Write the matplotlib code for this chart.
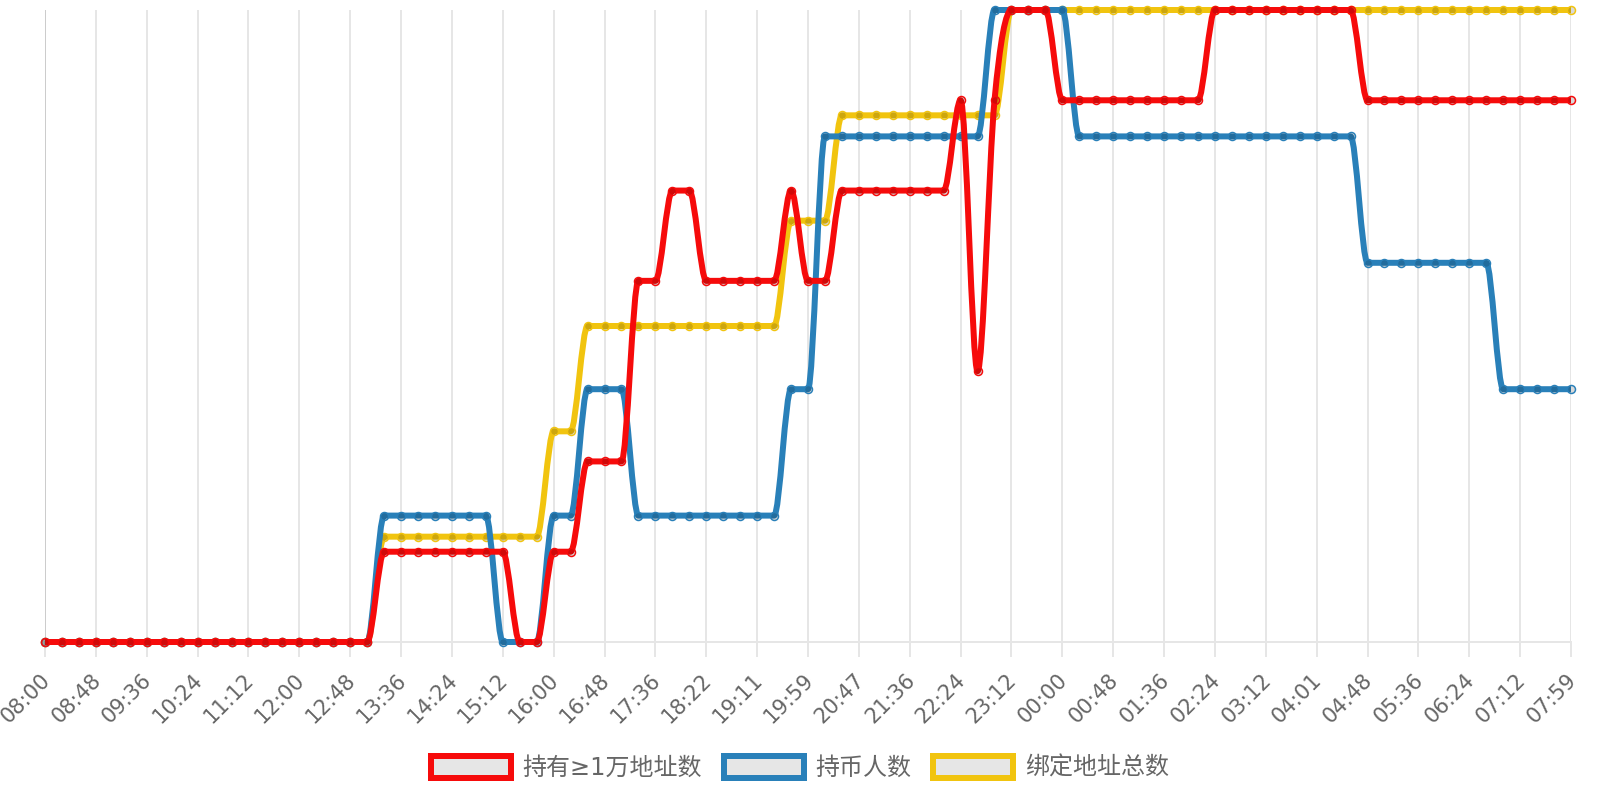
import numpy as np
import matplotlib
matplotlib.use("Agg")
import matplotlib.pyplot as plt
from matplotlib.path import Path
from matplotlib.patches import PathPatch, Patch
from matplotlib.transforms import ScaledTranslation

# x tick labels (one every 3rd sample, 91 samples in total)
tick_labels = ["08:00", "08:48", "09:36", "10:24", "11:12", "12:00", "12:48",
               "13:36", "14:24", "15:12", "16:00", "16:48", "17:36", "18:22",
               "19:11", "19:59", "20:47", "21:36", "22:24", "23:12", "00:00",
               "00:48", "01:36", "02:24", "03:12", "04:01", "04:48", "05:36",
               "06:24", "07:12", "07:59"]

# 持有≥1万地址数
big_holders = [0, 0, 0, 0, 0, 0, 0, 0, 0, 0, 0, 0, 0, 0, 0, 0, 0, 0, 0, 0,
               1, 1, 1, 1, 1, 1, 1, 1, 0, 0, 1, 1, 2, 2, 2, 4, 4, 5, 5, 4,
               4, 4, 4, 4, 5, 4, 4, 5, 5, 5, 5, 5, 5, 5, 6, 3, 6, 7, 7, 7,
               6, 6, 6, 6, 6, 6, 6, 6, 6, 7, 7, 7, 7, 7, 7, 7, 7, 7, 6, 6,
               6, 6, 6, 6, 6, 6, 6, 6, 6, 6, 6]
# 持币人数
holders = [0, 0, 0, 0, 0, 0, 0, 0, 0, 0, 0, 0, 0, 0, 0, 0, 0, 0, 0, 0,
           1, 1, 1, 1, 1, 1, 1, 0, 0, 0, 1, 1, 2, 2, 2, 1, 1, 1, 1, 1,
           1, 1, 1, 1, 2, 2, 4, 4, 4, 4, 4, 4, 4, 4, 4, 4, 5, 5, 5, 5,
           5, 4, 4, 4, 4, 4, 4, 4, 4, 4, 4, 4, 4, 4, 4, 4, 4, 4, 3, 3,
           3, 3, 3, 3, 3, 3, 2, 2, 2, 2, 2]
# 绑定地址总数
bound = [0, 0, 0, 0, 0, 0, 0, 0, 0, 0, 0, 0, 0, 0, 0, 0, 0, 0, 0, 0,
         1, 1, 1, 1, 1, 1, 1, 1, 1, 1, 2, 2, 3, 3, 3, 3, 3, 3, 3, 3,
         3, 3, 3, 3, 4, 4, 4, 5, 5, 5, 5, 5, 5, 5, 5, 5, 5, 6, 6, 6,
         6, 6, 6, 6, 6, 6, 6, 6, 6, 6, 6, 6, 6, 6, 6, 6, 6, 6, 6, 6,
         6, 6, 6, 6, 6, 6, 6, 6, 6, 6, 6]

names = ["持有≥1万地址数", "持币人数", "绑定地址总数"]
colors = ["#f60b0b", "#2980b9", "#f1c40f"]

W, H = 1600, 800
left, right, top, bottom = 45, 1571, 10, 642
PX = 72 / 100  # points per pixel


def monotone_path(vals):
    # monotone cubic (Fritsch-Carlson) through the points, as bezier segments
    y = np.asarray(vals, float)
    n = len(y)
    d = np.diff(y)
    m = np.zeros(n)
    m[0], m[-1] = d[0], d[-1]
    for k in range(1, n - 1):
        if d[k - 1] * d[k] > 0:
            m[k] = (d[k - 1] + d[k]) / 2
    for k in range(n - 1):
        if d[k] == 0:
            m[k] = m[k + 1] = 0
            continue
        a, b = m[k] / d[k], m[k + 1] / d[k]
        s = a * a + b * b
        if s > 9:
            tau = 3 / np.sqrt(s)
            m[k] = a * tau * d[k]
            m[k + 1] = b * tau * d[k]
    verts = [(0, y[0])]
    codes = [Path.MOVETO]
    for k in range(n - 1):
        verts += [(k + 1 / 3, y[k] + m[k] / 3), (k + 2 / 3, y[k + 1] - m[k + 1] / 3),
                  (k + 1, y[k + 1])]
        codes += [Path.CURVE4] * 3
    return Path(verts, codes)


fig = plt.figure(figsize=(16, 8), dpi=100)
ax = fig.add_axes([left / W, 1 - bottom / H, (right - left) / W, (bottom - top) / H])
ax_blue = ax.twinx()
ax_red = ax.twinx()

n = len(bound)
x = np.arange(n)

# yellow on the base axes, red on top
for a, vals, c in [(ax, bound, colors[2]), (ax_blue, holders, colors[1]),
                   (ax_red, big_holders, colors[0])]:
    a.set_xlim(0, n - 1)
    a.set_ylim(0, max(vals))
    a.add_patch(PathPatch(monotone_path(vals), fill=False, edgecolor=c,
                          lw=6 * PX, joinstyle="round", clip_on=False, zorder=3))
    a.plot(x, vals, "o", ms=8 * PX, mfc=(0, 0, 0, 0.15), mec=c, mew=1.5 * PX,
           clip_on=False, zorder=4)
    a.set_yticks([])
    for s in a.spines.values():
        s.set_visible(False)

ax_blue.yaxis.set_visible(False)
ax_red.yaxis.set_visible(False)

ticks = list(range(0, n, 3))
for i, xi in enumerate(ticks):
    ax.axvline(xi, color="#cccccc" if i == 0 else "#e6e6e6", lw=2 * PX, zorder=0)
ax.spines["bottom"].set_visible(True)
ax.spines["bottom"].set_color("#e6e6e6")
ax.spines["bottom"].set_linewidth(2 * PX)

ax.set_xticks(ticks)
ax.set_xticklabels(tick_labels, rotation=45, ha="right", va="center",
                   rotation_mode="anchor", fontsize=21 * PX, color="#666666",
                   family="DejaVu Sans")
ax.tick_params(axis="x", length=15 * PX, width=2 * PX, color="#e6e6e6",
               pad=20 * PX)
for lbl in ax.get_xticklabels():
    lbl.set_transform(lbl.get_transform() + ScaledTranslation(2 / 100, 0, fig.dpi_scale_trans))

handles = [Patch(facecolor="#e6e6e6", edgecolor=c, lw=6 * PX) for c in colors]
fig.legend(handles, names, loc="center", bbox_to_anchor=(0.5, 32 / H), ncol=3,
           frameon=False, prop={"family": ["DejaVu Sans", "Noto Sans CJK SC"],
                                "size": 24 * PX},
           labelcolor="#666666", handlelength=80 / 24, handleheight=1.0,
           handletextpad=0.5, columnspacing=0.9, borderaxespad=0)

fig.savefig("out.png", dpi=100)
